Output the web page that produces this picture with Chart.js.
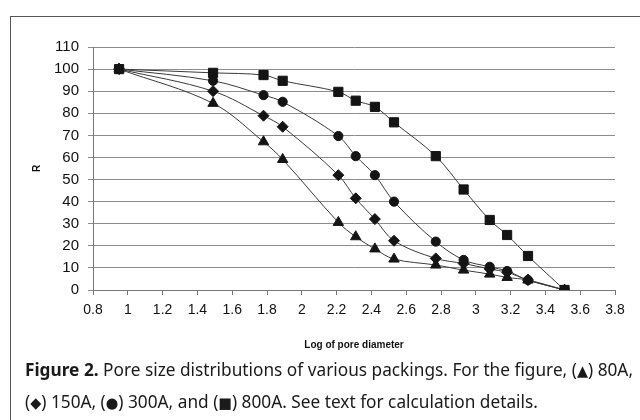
<!DOCTYPE html>
<html>
<head>
<meta charset="utf-8">
<script src="https://cdn.jsdelivr.net/npm/chart.js@4/dist/chart.umd.min.js"></script>
<style>
html,body{margin:0;padding:0;background:#fff;}
#wrap{position:relative;width:640px;height:420px;overflow:hidden;background:#fff;}
#frame{position:absolute;left:10px;top:16px;width:660px;height:440px;border-left:1.5px solid #555;border-top:1.5px solid #555;}
#chartbox{position:absolute;left:0;top:0;width:640px;height:360px;}
#cap{position:absolute;left:25px;top:354px;font-family:"Noto Sans","Liberation Sans",sans-serif;font-size:18px;line-height:30px;color:#1a1a1a;white-space:nowrap;transform-origin:0 0;}
#cap b{font-weight:bold;}
#cap div{display:block;width:max-content;}
#cap .sym{font-family:"DejaVu Sans",sans-serif;font-size:15px;}
</style>
</head>
<body>
<div id="wrap">
  <div id="frame"></div>
  <div id="chartbox"><canvas id="cv" width="640" height="360"></canvas></div>
  <div id="cap"><div id="l1"><b>Figure 2.</b> Pore size distributions of various packings. For the figure, (<span class="sym">▲</span>) 80A,</div><div id="l2">(<span class="sym">◆</span>) 150A, (<span class="sym">●</span>) 300A, and (<span class="sym">■</span>) 800A. See text for calculation details.</div></div>
</div>
<script>
// Log of pore diameter (x) shared by all series
const logDiameter = [0.95, 1.49, 1.78, 1.89, 2.21, 2.31, 2.42, 2.53, 2.77, 2.93, 3.08, 3.18, 3.30, 3.51];
// R values
const r80A  = [100, 84.5, 67.1, 59.1, 30.6, 24.1, 18.6, 14.0, 11.3, 9.0, 7.2, 5.7, 4.5, 0];
const r150A = [100, 90.0, 78.9, 73.9, 52.0, 41.5, 32.1, 22.3, 14.3, 12.0, 9.5, 8.0, 4.5, 0];
const r300A = [100, 94.7, 88.2, 85.2, 69.7, 60.6, 52.0, 40.0, 21.9, 13.6, 10.5, 8.6, 4.5, 0];
const r800A = [100, 98.3, 97.3, 94.7, 89.7, 85.7, 82.9, 75.9, 60.6, 45.5, 31.7, 24.9, 15.4, 0];
const seriesNames = ['80A', '150A', '300A', '800A'];
const xAxisTitle = 'Log of pore diameter';
const yAxisTitle = 'R';

// fit caption line 1 to the reference width (~608px)
(function(){
  const cap = document.getElementById('cap');
  const w = document.getElementById('l1').getBoundingClientRect().width;
  const k = 608 / w;
  cap.style.transform = 'scaleX(' + k + ')';
})();

function pts(ys){ return ys.map((y,i)=>({x: logDiameter[i], y: y})); }

function ds(label, ys, style, radius, order){
  return {
    label: label, data: pts(ys), showLine: true,
    borderColor: '#3a3a3a', borderWidth: 1, tension: 0.35,
    pointStyle: style, pointRadius: radius, pointHoverRadius: radius,
    pointBackgroundColor: '#141414', pointBorderColor: '#141414', pointBorderWidth: 1,
    order: order
  };
}

new Chart(document.getElementById('cv'), {
  type: 'scatter',
  data: {
    datasets: [
      ds(seriesNames[0], r80A, 'triangle', 6, 3),
      ds(seriesNames[1], r150A, 'rectRot', 5.5, 2),
      ds(seriesNames[2], r300A, 'circle', 4.6, 1),
      ds(seriesNames[3], r800A, 'rect', 6.5, 0)
    ]
  },
  options: {
    responsive: false, animation: false, devicePixelRatio: 1,
    layout: { padding: { left: 0, right: 25, top: 47, bottom: 0 } },
    plugins: { legend: { display: false }, tooltip: { enabled: false } },
    scales: {
      x: {
        type: 'linear', min: 0.8, max: 3.8,
        afterFit: s => { s.height = 70; },
        ticks: { stepSize: 0.2, color: '#111', padding: 7,
          font: { family: 'Liberation Sans', size: 14 },
          callback: v => String(Math.round(v * 10) / 10), maxRotation: 0, autoSkip: false },
        grid: { drawOnChartArea: false, drawTicks: true, tickLength: 5, color: '#777' },
        border: { color: '#777', width: 1 },
        title: { display: true, text: xAxisTitle, color: '#111',
          font: { family: 'Liberation Sans', size: 10, weight: 'bold' }, padding: { top: 0, bottom: 9 } }
      },
      y: {
        min: 0, max: 110,
        afterFit: s => { s.width = 93; },
        ticks: { stepSize: 10, color: '#111', padding: 9,
          font: { family: 'Liberation Sans', size: 15 } },
        grid: { color: '#8c8c8c', lineWidth: 1, tickLength: 5 },
        border: { color: '#777', width: 1 },
        title: { display: true, text: yAxisTitle, color: '#111',
          font: { family: 'Liberation Sans', size: 10, weight: 'bold' }, padding: { top: 31, bottom: 0 } }
      }
    }
  }
});
</script>
</body>
</html>
